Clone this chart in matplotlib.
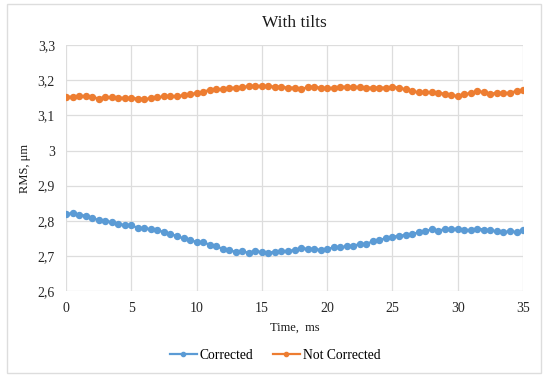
import matplotlib

matplotlib.use("Agg")
import matplotlib.pyplot as plt
import numpy as np
from matplotlib.patches import Rectangle
from matplotlib.ticker import FuncFormatter

plt.rcParams["font.family"] = ["Liberation Serif", "DejaVu Serif"]

# Data (time step 0.5 ms)
time_ms = np.arange(0, 35.01, 0.5)

corrected = [
    2.819, 2.822, 2.817, 2.815, 2.808, 2.802, 2.800, 2.796, 2.791, 2.788,
    2.788, 2.779, 2.779, 2.776, 2.773, 2.768, 2.763, 2.756, 2.750, 2.745,
    2.740, 2.739, 2.732, 2.729, 2.719, 2.716, 2.712, 2.713, 2.709, 2.715,
    2.710, 2.709, 2.712, 2.714, 2.714, 2.717, 2.722, 2.720, 2.720, 2.717,
    2.720, 2.724, 2.724, 2.728, 2.729, 2.734, 2.734, 2.742, 2.746, 2.750,
    2.755, 2.757, 2.760, 2.762, 2.767, 2.770, 2.776, 2.772, 2.776, 2.776,
    2.778, 2.775, 2.773, 2.778, 2.775, 2.773, 2.770, 2.768, 2.770, 2.768,
    2.773,
]

not_corrected = [
    3.153, 3.153, 3.155, 3.155, 3.153, 3.148, 3.152, 3.151, 3.150, 3.150,
    3.149, 3.148, 3.146, 3.149, 3.151, 3.154, 3.154, 3.155, 3.157, 3.160,
    3.164, 3.167, 3.173, 3.176, 3.174, 3.178, 3.179, 3.181, 3.183, 3.184,
    3.184, 3.183, 3.182, 3.181, 3.179, 3.179, 3.174, 3.181, 3.181, 3.179,
    3.177, 3.179, 3.182, 3.181, 3.181, 3.181, 3.179, 3.179, 3.179, 3.179,
    3.181, 3.179, 3.174, 3.168, 3.166, 3.166, 3.166, 3.164, 3.162, 3.158,
    3.155, 3.160, 3.164, 3.168, 3.167, 3.162, 3.164, 3.164, 3.164, 3.170,
    3.171,
]

x_ticks = [0, 5, 10, 15, 20, 25, 30, 35]
y_ticks = [2.6, 2.7, 2.8, 2.9, 3.0, 3.1, 3.2, 3.3]

BLUE = "#5B9BD5"
ORANGE = "#ED7D31"
GRID = "#DDDDDD"
TEXT = "#262626"

fig = plt.figure(figsize=(5.5, 3.79), dpi=100)
ax = fig.add_axes([0.12, 0.232, 0.831, 0.649])

ax.plot(time_ms, corrected, color=BLUE, marker="o", markersize=4.3,
        linewidth=1.6, label="Corrected")
ax.plot(time_ms, not_corrected, color=ORANGE, marker="o", markersize=4.3,
        linewidth=1.6, label="Not Corrected")

ax.set_xlim(0, 35)
ax.set_ylim(2.6, 3.3)
ax.set_xticks(x_ticks)
ax.set_yticks(y_ticks)
# comma decimal separator, as in the original
ax.yaxis.set_major_formatter(
    FuncFormatter(lambda v, p: ("%g" % round(v, 2)).replace(".", ","))
)
ax.tick_params(length=0, labelsize=10, colors=TEXT, pad=8)
ax.grid(True, color=GRID, linewidth=0.9)
ax.set_axisbelow(True)
for s in ax.spines.values():
    s.set_visible(False)

ax.set_title("With tilts", fontsize=12.5, color="#1a1a1a", pad=13)
ax.set_xlabel("Time,  ms", fontsize=9, color="#1a1a1a", labelpad=5)
ax.set_ylabel("RMS, μm", fontsize=9, color="#1a1a1a", labelpad=5)

ax.legend(loc="center", bbox_to_anchor=(0.5, 0.063), bbox_transform=fig.transFigure,
          ncol=2, frameon=False, fontsize=9.8, handlelength=2.0,
          columnspacing=1.4, handletextpad=0.2, markerscale=0.7)

# light chart border like the spreadsheet export
fig.patches.append(Rectangle((7 / 550, 6 / 379), 534 / 550, 369 / 379,
                             transform=fig.transFigure, fill=False,
                             edgecolor=GRID, linewidth=1.0))

fig.savefig("out.png", dpi=100)
